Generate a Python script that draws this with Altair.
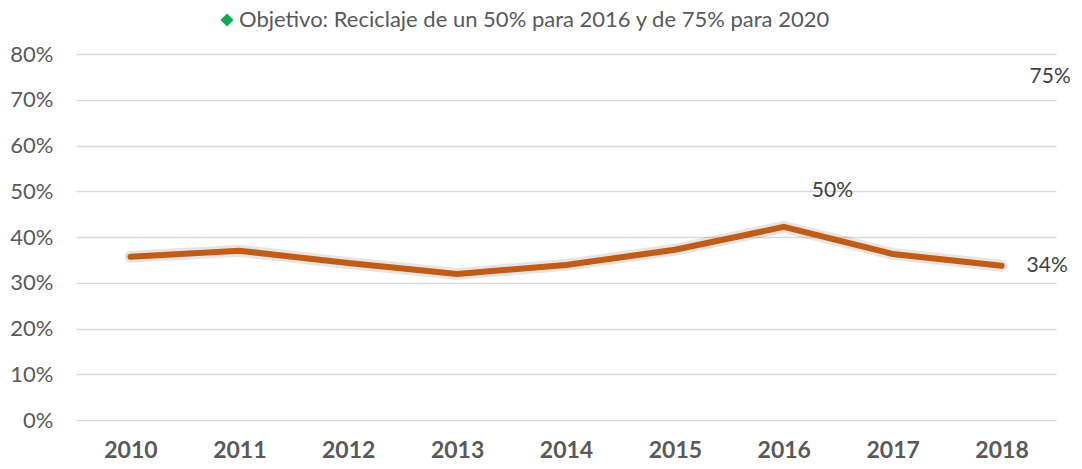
import altair as alt
import pandas as pd

years = ["2010", "2011", "2012", "2013", "2014", "2015", "2016", "2017", "2018"]
rates = [35.7, 37.0, 34.3, 31.9, 33.9, 37.2, 42.2, 36.3, 33.7]

target_years = ["2016", "2018"]
target_values = [50, 75]
target_labels = ["50%", "75%"]

last_year = ["2018"]
last_value = [33.7]
last_label = ["34%"]

legend_text = ["Objetivo: Reciclaje de un 50% para 2016 y de 75% para 2020"]

FONT = "Lato"
TXT = "#595959"

df = pd.DataFrame({"year": years, "rate": rates})
dt = pd.DataFrame({"year": target_years, "rate": target_values, "label": target_labels})
dl = pd.DataFrame({"year": last_year, "rate": last_value, "label": last_label})
dleg = pd.DataFrame({"label": legend_text})

x = alt.X("year:N", sort=years,
          scale=alt.Scale(domain=years, paddingInner=0, paddingOuter=0),
          axis=alt.Axis(title=None, labelAngle=0, labelFontSize=23, labelFontWeight="bold",
                        labelColor=TXT, labelFont=FONT, labelPadding=37,
                        labelBaseline="alphabetic",
                        domain=False, ticks=False, grid=False))
y = alt.Y("rate:Q", scale=alt.Scale(domain=[0, 80], nice=False),
          axis=alt.Axis(title=None, values=list(range(0, 81, 10)),
                        labelExpr="datum.value + '%'", labelFontSize=22, labelColor=TXT,
                        labelFont=FONT, labelPadding=23, domain=False, ticks=False,
                        gridColor="#D9D9D9", gridWidth=1.5))

shadow = alt.Chart(df).mark_line(color="#000000", opacity=0.1, strokeWidth=12,
                                 strokeCap="round").encode(x=x, y=y)
line = alt.Chart(df).mark_line(color="#C55A11", strokeWidth=6, strokeCap="round").encode(x=x, y=y)

targets = alt.Chart(dt).mark_text(align="left", baseline="middle", dx=28, fontSize=21,
                                  color="#404040", font=FONT).encode(x=x, y=y, text="label:N")
last = alt.Chart(dl).mark_text(align="left", baseline="middle", dx=25, fontSize=21,
                               color="#404040", font=FONT).encode(x=x, y=y, text="label:N")

leg_pt = alt.Chart(dleg).mark_point(shape="diamond", filled=True, color="#00B050", size=170,
                                    opacity=1).encode(x=alt.value(151), y=alt.value(-34))
leg_tx = alt.Chart(dleg).mark_text(align="left", baseline="middle", fontSize=22, color=TXT,
                                   font=FONT).encode(x=alt.value(163), y=alt.value(-34),
                                                     text="label:N")

chart = alt.layer(shadow, line, targets, last, leg_pt, leg_tx).properties(
    width=980, height=366,
    background="white",
    autosize=alt.AutoSizeParams(type="none"),
    padding={"left": 68, "top": 46, "right": 14, "bottom": 41},
).configure_view(stroke="transparent", strokeWidth=0)

chart.save("out.html", embed_options={"renderer": "svg", "actions": False})
